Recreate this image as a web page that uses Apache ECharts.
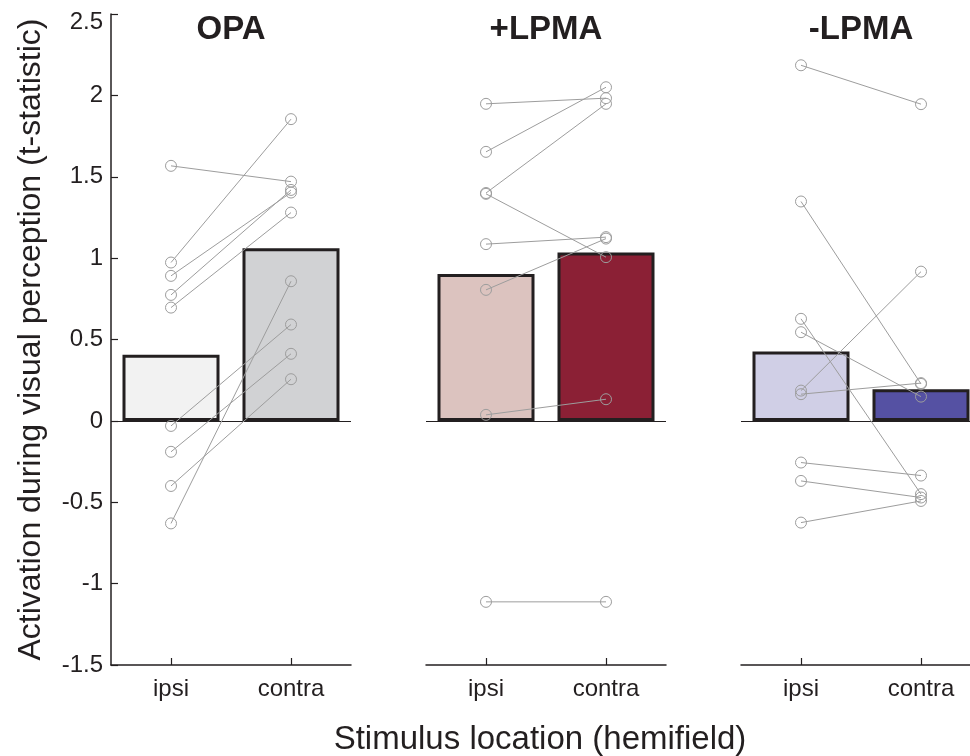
<!DOCTYPE html>
<html>
<head>
<meta charset="utf-8">
<script src="https://cdn.jsdelivr.net/npm/echarts@6/dist/echarts.min.js"></script>
<style>
  html, body { margin: 0; padding: 0; background: #fff; }
  #chart { width: 970px; height: 756px; }
</style>
</head>
<body>
<div id="chart"></div>
<script>
// ---- data ----
const categories = ['ipsi', 'contra'];
const panelTitles = ['OPA', '+LPMA', '-LPMA'];

const opaMeans = [0.406, 1.061];
const plusMeans = [0.903, 1.034];
const minusMeans = [0.426, 0.195];

const opaIpsi   = [1.567, 0.973, 0.891, 0.774, 0.696, -0.031, -0.19, -0.40, -0.63];
const opaContra = [1.470, 1.854, 1.403, 1.419, 1.28, 0.592, 0.412, 0.256, 0.858];

const plusIpsi   = [1.948, 1.653, 1.400, 1.395, 1.086, 0.805, 0.037, -1.112];
const plusContra = [1.983, 2.050, 1.948, 1.006, 1.129, 1.120, 0.133, -1.112];

const minusIpsi   = [2.185, 1.348, 0.627, 0.545, 0.186, 0.164, -0.256, -0.369, -0.625];
const minusContra = [1.946, 0.227, -0.450, 0.149, 0.917, 0.232, -0.336, -0.471, -0.492];

const yTicks = ['-1.5', '-1', '-0.5', '0', '0.5', '1', '1.5', '2', '2.5'];

const barColors = [
  ['#f2f2f2', '#d1d2d4'],
  ['#dcc3bf', '#8b2035'],
  ['#d0cfe6', '#5551a3']
];

// ---- build ----
const panels = [
  { means: opaMeans, ipsi: opaIpsi, contra: opaContra },
  { means: plusMeans, ipsi: plusIpsi, contra: plusContra },
  { means: minusMeans, ipsi: minusIpsi, contra: minusContra }
];

const FONT = 'Liberation Sans, Arial, Helvetica, sans-serif';
const INK = '#231f20';
const GRAY = '#9d9d9d';
const CANVAS_W = 970;
const lefts = [111, 426, 741];
const W = 240, TOP = 14, H = 651;
const catIdx = categories.map((c, k) => k);
const yMax = Number(yTicks[yTicks.length - 1]);

const grids = [], xAxes = [], yAxes = [], series = [], titles = [];

panels.forEach((p, i) => {
  // last panel is cut by the canvas edge: keep the same scale, shorten the axis range
  const visW = Math.min(W, CANVAS_W - lefts[i]);
  const xMin = -0.5;
  const xMax = xMin + (categories.length) * visW / W;
  grids.push({ left: lefts[i], top: TOP, width: visW, height: H, containLabel: false });
  xAxes.push({
    type: 'value', gridIndex: i, min: xMin, max: xMax,
    axisLine: { show: true, onZero: false, lineStyle: { color: INK, width: 1.5 } },
    axisTick: { show: true, inside: true, length: 7, customValues: catIdx, lineStyle: { color: INK, width: 1.2 } },
    axisLabel: { color: INK, fontSize: 24, fontFamily: FONT, margin: 12, customValues: catIdx,
      formatter: v => categories[Math.round(v)] || '' },
    splitLine: { show: false }
  });
  yAxes.push({
    type: 'value', gridIndex: i, min: Number(yTicks[0]), max: yMax, interval: 0.5,
    show: i === 0,
    axisLine: { show: true, onZero: false, lineStyle: { color: INK, width: 1.5 } },
    axisTick: { show: true, inside: true, length: 7, lineStyle: { color: INK, width: 1.2 } },
    axisLabel: { color: INK, fontSize: 24, fontFamily: FONT, margin: 8,
      formatter: v => {
        const t = yTicks.find(s => Math.abs(Number(s) - v) < 1e-9) || String(v);
        return Math.abs(v - yMax) < 1e-9 ? '{top|' + t + '}' : t;
      },
      rich: { top: { fontSize: 24, fontFamily: FONT, color: INK, padding: [16, 0, 0, 0] } }
    },
    splitLine: { show: false },
    name: i === 0 ? 'Activation during visual perception (t-statistic)' : '',
    nameLocation: 'middle', nameGap: 64,
    nameTextStyle: { color: INK, fontSize: 32, fontFamily: FONT }
  });
  titles.push({
    text: panelTitles[i], left: lefts[i] + W / 2, top: 13, textAlign: 'center', padding: 0,
    textStyle: { color: INK, fontSize: 33, fontWeight: 'bold', fontFamily: FONT }
  });
  series.push({
    type: 'bar', xAxisIndex: i, yAxisIndex: i, barWidth: 97, z: 2,
    data: p.means.map((v, k) => ({ value: [catIdx[k], v], itemStyle: { color: barColors[i][k] } })),
    itemStyle: { borderColor: INK, borderWidth: 3 },
    silent: true,
    markLine: {
      silent: true, symbol: 'none', label: { show: false },
      lineStyle: { color: INK, width: 1.2, type: 'solid' },
      data: [{ yAxis: 0 }]
    }
  });
  p.ipsi.forEach((a, k) => {
    series.push({
      type: 'line', xAxisIndex: i, yAxisIndex: i, z: 5,
      data: [[catIdx[0], a], [catIdx[1], p.contra[k]]],
      symbol: 'circle', symbolSize: 11,
      itemStyle: { color: 'rgba(0,0,0,0)', borderColor: GRAY, borderWidth: 1 },
      lineStyle: { color: GRAY, width: 1 },
      silent: true, animation: false
    });
  });
});

titles.push({
  text: 'Stimulus location (hemifield)', left: 540, top: 723, textAlign: 'center', padding: 0,
  textStyle: { color: INK, fontSize: 33, fontWeight: 'normal', fontFamily: FONT }
});

const chart = echarts.init(document.getElementById('chart'), null, { renderer: 'canvas' });
chart.setOption({
  animation: false,
  backgroundColor: '#fff',
  title: titles,
  grid: grids,
  xAxis: xAxes,
  yAxis: yAxes,
  series: series
});
</script>
</body>
</html>
